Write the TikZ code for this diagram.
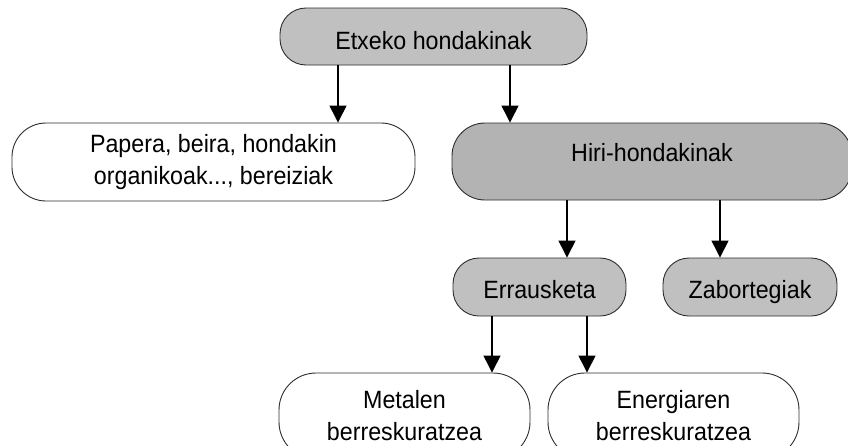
\documentclass[tikz,border=0pt]{standalone}
\usepackage{fontspec}
\setmainfont[FakeStretch=0.93]{Liberation Sans}
\usetikzlibrary{arrows.meta}
\definecolor{lgray}{RGB}{192,192,192}
\definecolor{dgray}{RGB}{179,179,179}
\definecolor{edgec}{RGB}{45,45,45}
\newcommand{\rtxt}[2]{\raisebox{#1}[0pt][0pt]{#2}}
\begin{document}
\begin{tikzpicture}[x=1pt,y=-1pt,
  box/.style={draw=edgec, line width=0.9pt, rectangle, inner sep=0pt, align=center,
              font=\fontsize{25}{32}\selectfont},
  arr/.style={draw=black, line width=1.3pt, -{Triangle[width=17pt,length=17pt]}}]
\useasboundingbox (0,0) rectangle (848,445);
\clip (0,0) rectangle (848,445);
% nodes
\node[box, fill=lgray, rounded corners=26pt, minimum width=307pt, minimum height=57pt]
  (etx) at (433.5,36.5) {\rtxt{-13pt}{Etxeko hondakinak}};
\node[box, fill=white, rounded corners=34pt, minimum width=403pt, minimum height=78pt]
  (pap) at (213.5,162) {Papera, beira, hondakin\\organikoak..., bereiziak};
\node[box, fill=dgray, rounded corners=33pt, minimum width=400pt, minimum height=77pt]
  (hiri) at (652,161.5) {\rtxt{0.5pt}{Hiri-hondakinak}};
\node[box, fill=lgray, rounded corners=26pt, minimum width=173pt, minimum height=58pt]
  (err) at (539.5,287) {\rtxt{-11pt}{Errausketa}};
\node[box, fill=lgray, rounded corners=26pt, minimum width=174pt, minimum height=58pt]
  (zab) at (750,287) {\rtxt{-11pt}{Zabortegiak}};
\node[box, fill=white, rounded corners=37pt, minimum width=251pt, minimum height=86pt]
  (met) at (404.5,416) {Metalen\\berreskuratzea};
\node[box, fill=white, rounded corners=37pt, minimum width=251pt, minimum height=86pt]
  (ene) at (673.5,416) {Energiaren\\berreskuratzea};
% connectors
\draw[arr] ([xshift=-95.5pt]etx.south) -- ([xshift=124.5pt]pap.north);
\draw[arr] ([xshift=76.5pt]etx.south) -- ([xshift=-142pt]hiri.north);
\draw[arr] ([xshift=-85pt]hiri.south) -- ([xshift=27.5pt]err.north);
\draw[arr] ([xshift=68pt]hiri.south) -- ([xshift=-30pt]zab.north);
\draw[arr] ([xshift=-47.5pt]err.south) -- ([xshift=87.5pt]met.north);
\draw[arr] ([xshift=47.5pt]err.south) -- ([xshift=-86.5pt]ene.north);
\end{tikzpicture}
\end{document}
